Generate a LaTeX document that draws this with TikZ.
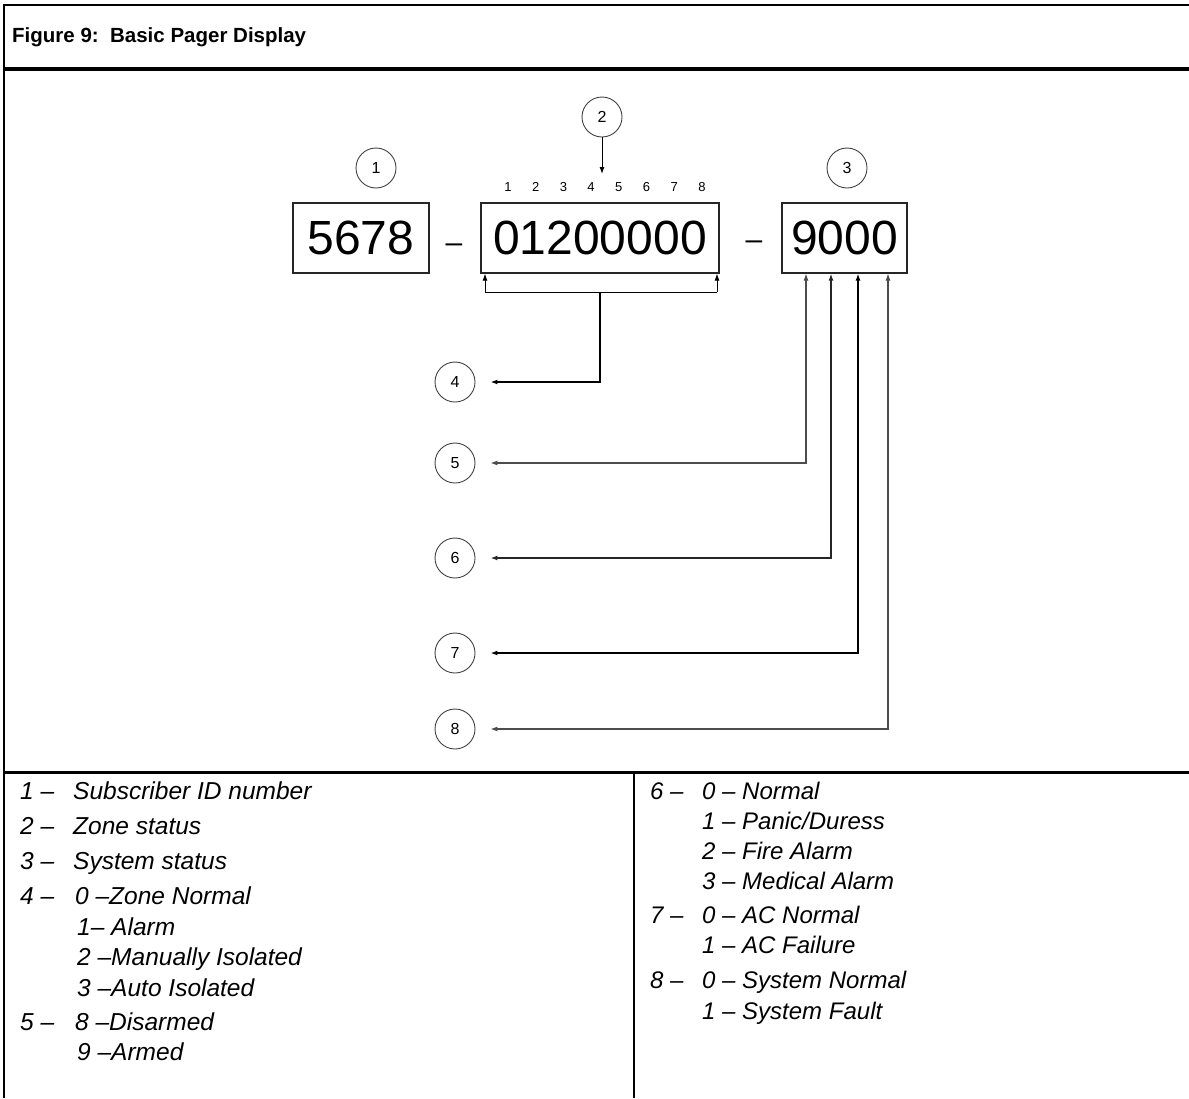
\documentclass[tikz,border=0pt]{standalone}
\usepackage{fontspec}
\setmainfont{Liberation Sans}
\usetikzlibrary{arrows.meta}
\tikzset{
  frame/.style={line width=#1, black},
  numc/.style={circle, draw=black!75, line width=0.9pt, minimum size=40pt, inner sep=0pt, font=\fontsize{16}{18}\selectfont},
  dbox/.style={draw=black!85, line width=1.1pt, inner sep=0pt, minimum height=70pt, font=\fontsize{48}{50}\selectfont},
  tick/.style={inner sep=0pt, font=\fontsize{13}{15}\selectfont},
  dashtxt/.style={inner sep=0pt, anchor=base, font=\fontsize{30}{32}\selectfont},
  arr/.style={-{Latex[length=7pt,width=5pt]}},
  darr/.style={{Latex[length=7pt,width=5pt]}-{Latex[length=7pt,width=5pt]}},
  ltxt/.style={anchor=base west, inner sep=0pt, font=\fontsize{24.5}{26}\selectfont\itshape},
  rtxt/.style={anchor=base west, inner sep=0pt, font=\fontsize{24}{26}\selectfont\itshape},
}
\begin{document}
\begin{tikzpicture}[x=1pt,y=-1pt]
\useasboundingbox (0,0) rectangle (1189,1098);
% frame
\draw[frame=2pt] (1189,5) -- (4,5) -- (4,1098);
\draw[frame=4pt] (4,69) -- (1189,69);
\draw[frame=3pt] (4,772) -- (1189,772);
\draw[frame=2pt] (634,772) -- (634,1098);
\node[anchor=base west, inner sep=0pt, font=\fontsize{20.5}{22}\selectfont\bfseries] (title) at (12,42) {Figure 9:\ \ Basic Pager Display};

% boxes
\node[dbox, minimum width=136pt] (b1) at (361,238) {5678};
\node[dbox, minimum width=238pt] (b2) at (600,238) {01200000};
\node[dbox, minimum width=125pt] (b3) at (844.5,238) {9000};
\node[dashtxt] (d1) at (454,252) {–};
\node[dashtxt] (d2) at (754,249) {–};

% numbered circles
\node[numc] (c1) at (376,168) {1};
\node[numc] (c2) at (602,117) {2};
\node[numc] (c3) at (847,168) {3};
\node[numc] (c4) at (455,382) {4};
\node[numc] (c5) at (455,463) {5};
\node[numc] (c6) at (455,558) {6};
\node[numc] (c7) at (455,653) {7};
\node[numc] (c8) at (455,729) {8};

% digit position labels
\foreach \i in {1,...,8} {
  \node[tick] (t\i) at ({508+27.7*(\i-1)},187) {\i};
}

% arrow from 2
\coordinate (a2) at (602,174);
\draw[arr, line width=1pt] (c2.south) -- (a2);

% bracket under zone box
\coordinate (bl) at (485,292);
\coordinate (br) at (717,292);
\coordinate (bm) at (600,292);
\coordinate (k4) at (600,382);
\draw[line width=1pt] (bl) -- (br);
\draw[arr, line width=1pt] (bl) -- (bl |- b2.south);
\draw[arr, line width=1pt] (br) -- (br |- b2.south);
\draw[arr, line width=2pt, shorten >=15pt] (bm) -- (k4) -- (c4.east);

% system status lines
\coordinate (k5) at (806,463);
\coordinate (k6) at (831,558);
\coordinate (k7) at (858,653);
\coordinate (k8) at (888,729);
\draw[darr, line width=1.1pt, black!70, shorten >=15pt] (b3.south -| k5) -- (k5) -- (c5.east);
\draw[darr, line width=1.6pt, black!85, shorten >=15pt] (b3.south -| k6) -- (k6) -- (c6.east);
\draw[darr, line width=1.6pt, black, shorten >=15pt] (b3.south -| k7) -- (k7) -- (c7.east);
\draw[darr, line width=1.1pt, black!70, shorten >=15pt] (b3.south -| k8) -- (k8) -- (c8.east);

% left column
\node[ltxt] (l1n) at (20,799) {1 –};
\node[ltxt] (l1) at (73,799) {Subscriber ID number};
\node[ltxt] (l2n) at (20,834) {2 –};
\node[ltxt] (l2) at (73,834) {Zone status};
\node[ltxt] (l3n) at (20,869) {3 –};
\node[ltxt] (l3) at (73,869) {System status};
\node[ltxt] (l4n) at (20,904) {4 –};
\node[ltxt] (l4a) at (75,904) {0 –Zone Normal};
\node[ltxt] (l4b) at (77,935) {1– Alarm};
\node[ltxt] (l4c) at (77,965) {2 –Manually Isolated};
\node[ltxt] (l4d) at (77,996) {3 –Auto Isolated};
\node[ltxt] (l5n) at (20,1030) {5 –};
\node[ltxt] (l5a) at (75,1030) {8 –Disarmed};
\node[ltxt] (l5b) at (77,1060) {9 –Armed};

% right column
\node[rtxt] (r6n) at (650,799) {6 –};
\node[rtxt] (r6a) at (702,799) {0 – Normal};
\node[rtxt] (r6b) at (702,829) {1 – Panic/Duress};
\node[rtxt] (r6c) at (702,859) {2 – Fire Alarm};
\node[rtxt] (r6d) at (702,889) {3 – Medical Alarm};
\node[rtxt] (r7n) at (650,923) {7 –};
\node[rtxt] (r7a) at (702,923) {0 – AC Normal};
\node[rtxt] (r7b) at (702,953) {1 – AC Failure};
\node[rtxt] (r8n) at (650,988) {8 –};
\node[rtxt] (r8a) at (702,988) {0 – System Normal};
\node[rtxt] (r8b) at (702,1019) {1 – System Fault};
\end{tikzpicture}
\end{document}
